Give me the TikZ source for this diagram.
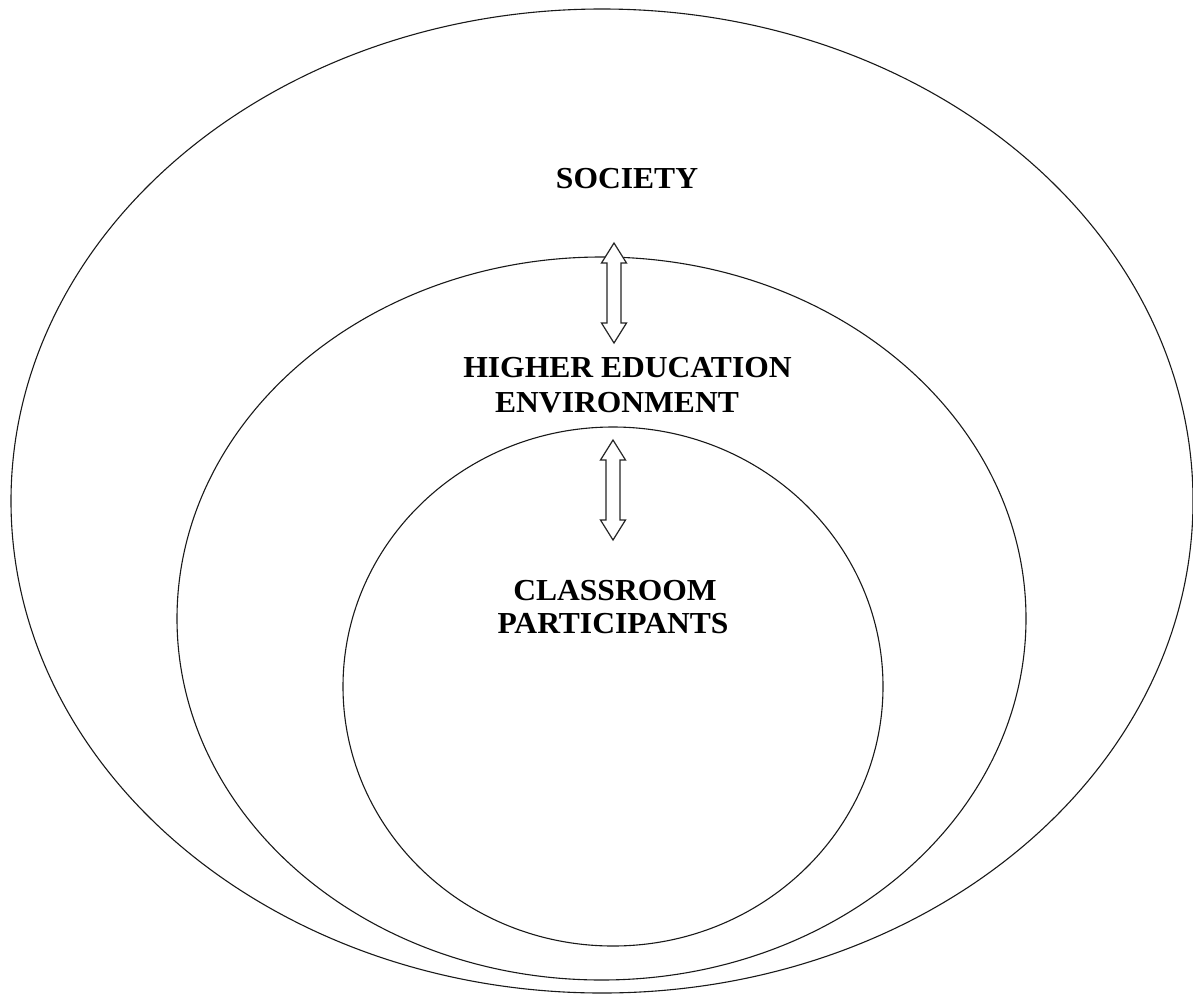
\documentclass[tikz,border=0pt]{standalone}
\usepackage{fontspec}
\setmainfont{Liberation Serif}
\begin{document}
\begin{tikzpicture}[x=1pt,y=-1pt,
  ring/.style={draw=black!90,line width=1.1pt},
  lbl/.style={font=\fontsize{30.5}{34}\selectfont\bfseries,anchor=base,inner sep=0pt,xscale=1.035},
  arrowline/.style={draw=black!85,line width=1.2pt,fill=white,line join=miter},
  dblarr/.pic={
    \path[arrowline] (0,0) -- (12.5,20) -- (7,20) -- (7,80) -- (12.5,80) -- (0,100)
      -- (-12.5,80) -- (-7,80) -- (-7,20) -- (-12.5,20) -- cycle;
  }]
\useasboundingbox[fill=white] (0,0) rectangle (1193,993);
% rings
\draw[ring] (602,501) ellipse [x radius=591pt, y radius=492pt];
\draw[ring] (601.5,618.5) ellipse [x radius=424.5pt, y radius=361.5pt];
\draw[ring] (613,686.5) ellipse [x radius=270pt, y radius=259.5pt];
% arrows
\pic at (614,243) {dblarr};
\pic at (613,440) {dblarr};
% labels
\node[lbl] (soc) at (627,188) {SOCIETY};
\node[lbl] (he1) at (627.5,377) {HIGHER EDUCATION};
\node[lbl] (he2) at (617,412) {ENVIRONMENT};
\node[lbl] (cl1) at (615,600) {CLASSROOM};
\node[lbl] (cl2) at (613,633) {PARTICIPANTS};
\end{tikzpicture}
\end{document}
